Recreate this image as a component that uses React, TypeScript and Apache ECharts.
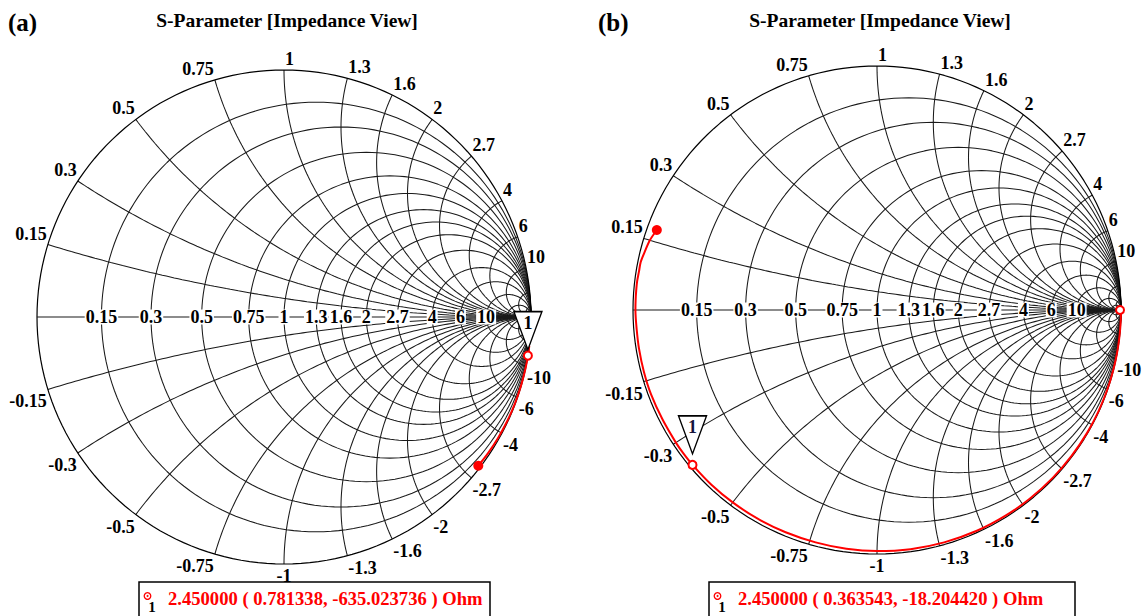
import React, { useEffect, useRef } from "react";
import * as echarts from "echarts";

const FONT = "'Liberation Serif', 'Times New Roman', Times, serif";

// ---- Smith chart grid values (normalized to Z0 = 50 Ohm) ----
const resistanceCircles = [0.15, 0.3, 0.5, 0.75, 1, 1.3, 1.6, 2, 2.7, 4, 6, 10, 20, 50];
const reactanceArcs = [0.15, 0.3, 0.5, 0.75, 1, 1.3, 1.6, 2, 2.7, 4, 6, 10, 20, 50];
const resistanceLabels = [0.15, 0.3, 0.5, 0.75, 1, 1.3, 1.6, 2, 2.7, 4, 6, 10];
const reactanceLabels = [0.15, 0.3, 0.5, 0.75, 1, 1.3, 1.6, 2, 2.7, 4, 6, 10];

// ---- (a) trace: normalized impedance r + jx ----
const traceA_r = [0.045, 0.04, 0.035, 0.03, 0.028, 0.025, 0.022, 0.018, 0.0156, 0.014, 0.013];
const traceA_x = [-2.95, -3.3, -3.8, -4.5, -5.5, -7, -9, -11, -12.7, -15, -17];

// ---- (b) trace: normalized impedance r + jx ----
const traceB_r = [0.021, 0.0136, 0.009, 0.006, 0.006, 0.005, 0.005, 0.005, 0.005, 0.006, 0.006, 0.006, 0.006, 0.007, 0.007, 0.007, 0.00727, 0.008, 0.009, 0.01, 0.011, 0.012, 0.012, 0.012, 0.012, 0.012, 0.012, 0.013, 0.014, 0.015, 0.016, 0.018, 0.02, 0.025, 0.03, 0.04, 0.06, 0.1, 0.2, 0.5, 2, 500];
const traceB_x = [0.176, 0.15, 0.12, 0.1, 0.08, 0.06, 0.04, 0.02, 0, -0.04, -0.08, -0.13, -0.18, -0.24, -0.3, -0.33, -0.364, -0.43, -0.5, -0.58, -0.67, -0.77, -0.88, -1, -1.15, -1.33, -1.55, -1.8, -2.1, -2.5, -3, -3.7, -4.6, -6, -8, -11, -16, -25, -45, -100, -300, 0];

// ---- markers (Ohm) ----
const Z0 = 50;
const markerFreq = "2.450000";
const markerA_Z = [0.781338, -635.023736];
const markerB_Z = [0.363543, -18.20442];
const titles = ["S-Parameter [Impedance View]", "S-Parameter [Impedance View]"];
const panelTags = ["(a)", "(b)"];

// layout (pixels)
const panels = [
  { left: 37, top: 70, size: 494, triGap: 6, legendX: 139, legendW: 351 },
  { left: 633, top: 66, size: 488, triGap: 11, legendX: 709, legendW: 366 },
];

function gamma(r: number, x: number): [number, number] {
  const d = (r + 1) * (r + 1) + x * x;
  return [(r * r + x * x - 1) / d, (2 * x) / d];
}

function rCircle(r: number): [number, number][] {
  const pts: [number, number][] = [];
  const N = 180;
  for (let i = 0; i <= N; i++) {
    const t = -Math.PI / 2 + (Math.PI * i) / N;
    if (i === 0 || i === N) { pts.push([1, 0]); continue; }
    const x = (r + 1) * Math.tan(t);
    pts.push(gamma(r, x));
  }
  return pts;
}

function xArc(x: number, rmax = Infinity): [number, number][] {
  const pts: [number, number][] = [];
  const N = 120;
  const w0 = Math.atan(Math.abs(x));
  const w1 = rmax === Infinity ? 0 : Math.atan(Math.abs(x) / (rmax + 1));
  for (let i = 0; i <= N; i++) {
    const w = w0 + ((w1 - w0) * i) / N;
    if (w <= 1e-9) { pts.push([1, 0]); continue; }
    const r = Math.abs(x) / Math.tan(w) - 1;
    pts.push(gamma(Math.max(r, 0), x));
  }
  return pts;
}

function fmt(v: number) {
  return String(v);
}

function buildOption() {
  const grids: any[] = [];
  const xAxes: any[] = [];
  const yAxes: any[] = [];
  const series: any[] = [];
  const graphics: any[] = [];
  const traces = [
    { r: traceA_r, x: traceA_x, markerZ: markerA_Z, endOpen: false },
    { r: traceB_r, x: traceB_x, markerZ: markerB_Z, endOpen: true },
  ];

  panels.forEach((p, k) => {
    grids.push({ left: p.left, top: p.top, width: p.size, height: p.size });
    xAxes.push({ gridIndex: k, type: "value", min: -1, max: 1, show: false });
    yAxes.push({ gridIndex: k, type: "value", min: -1, max: 1, show: false });
    const addLine = (data: any[], color = "#1a1a1a", width = 1.05, z = 2) =>
      series.push({
        type: "line", xAxisIndex: k, yAxisIndex: k, data, symbol: "none", showSymbol: false,
        lineStyle: { color, width }, silent: true, z, clip: false, animation: false,
      });

    resistanceCircles.forEach((r) => addLine(rCircle(r)));
    reactanceArcs.forEach((x) => { addLine(xArc(x)); addLine(xArc(-x)); });
    addLine(rCircle(0), "#000", 1.2);
    addLine([[-1, 0], [1, 0]]);

    // real-axis labels
    series.push({
      type: "scatter", xAxisIndex: k, yAxisIndex: k, symbolSize: 1, z: 5, silent: true,
      itemStyle: { color: "transparent", opacity: 1 },
      data: resistanceLabels.map((r) => ({ value: gamma(r, 0), name: fmt(r) })),
      label: {
        show: true, position: "inside", formatter: (d: any) => d.name,
        fontFamily: FONT, fontWeight: "bold", fontSize: 18, color: "#000",
        backgroundColor: "#fff", padding: [0, 1, 0, 1], lineHeight: 15,
      },
    });

    // boundary labels
    const bl: any[] = [];
    reactanceLabels.forEach((xv) => {
      [xv, -xv].forEach((x) => {
        const g = gamma(0, x);
        let align = g[0] > 0.001 ? "left" : "right";
        if (Math.abs(g[0]) <= 0.001) align = x > 0 ? "left" : "center";
        bl.push({
          value: g, name: fmt(x),
          label: {
            align, verticalAlign: x > 0 ? "bottom" : "top",
            offset: [align === "left" ? 1 : align === "right" ? -1 : 0, x > 0 ? -2 : 3],
          },
        });
      });
    });
    series.push({
      type: "scatter", xAxisIndex: k, yAxisIndex: k, symbolSize: 1, z: 5, silent: true,
      itemStyle: { color: "transparent", opacity: 1 }, data: bl,
      label: {
        show: true, position: "inside", formatter: (d: any) => d.name,
        fontFamily: FONT, fontWeight: "bold", fontSize: 18, color: "#000",
      },
    });

    // trace
    const tr = traces[k];
    const pts = tr.r.map((r, i) => gamma(r, tr.x[i]));
    series.push({
      type: "line", xAxisIndex: k, yAxisIndex: k, data: pts, symbol: "none", showSymbol: false,
      smooth: 0.3, lineStyle: { color: "#ff0000", width: 2 }, z: 6, clip: false, silent: true,
    });
    series.push({
      type: "scatter", xAxisIndex: k, yAxisIndex: k, z: 7, silent: true,
      symbol: "circle", symbolSize: 10, itemStyle: { color: "#ff0000", opacity: 1 }, data: [pts[0]],
    });
    const mz = gamma(tr.markerZ[0] / Z0, tr.markerZ[1] / Z0);
    const openPts = [mz];
    if (tr.endOpen) openPts.push(pts[pts.length - 1]);
    series.push({
      type: "scatter", xAxisIndex: k, yAxisIndex: k, z: 8, silent: true,
      symbol: "emptyCircle", symbolSize: 8,
      itemStyle: { color: "#ff0000", borderColor: "#ff0000", borderWidth: 1.6, opacity: 1 }, data: openPts,
    });
    // marker triangle
    series.push({
      type: "scatter", xAxisIndex: k, yAxisIndex: k, z: 9, silent: true,
      symbol: "path://M0,0 L28,0 L14,38 Z", symbolSize: [28, 38], symbolKeepAspect: false,
      symbolOffset: [0, -(19 + p.triGap)],
      itemStyle: { color: "#fff", borderColor: "#000", borderWidth: 1.5, opacity: 1 }, data: [mz],
    });
    series.push({
      type: "scatter", xAxisIndex: k, yAxisIndex: k, z: 10, silent: true, symbolSize: 1,
      itemStyle: { color: "transparent", opacity: 1 }, data: [{ value: mz, name: "1" }],
      label: {
        show: true, position: "inside", formatter: "1", offset: [0, -(p.triGap + 27)],
        fontFamily: FONT, fontWeight: "bold", fontSize: 18, color: k === 0 ? "#000" : "#14143c",
      },
    });

    // title and tag
    const cx = p.left + p.size / 2;
    graphics.push({
      type: "text", x: cx + 3, y: 20, z: 20,
      style: { text: titles[k], font: `bold 19.5px ${FONT}`, fill: "#000", textAlign: "center", textVerticalAlign: "middle" },
    });
    graphics.push({
      type: "text", x: k === 0 ? 8 : 598, y: 22, z: 20,
      style: { text: panelTags[k], font: `bold 25px ${FONT}`, fill: "#000", textAlign: "left", textVerticalAlign: "middle" },
    });
    // legend box
    const mzv = tr.markerZ;
    graphics.push({
      type: "group", z: 20,
      children: [
        { type: "rect", shape: { x: p.legendX, y: 582, width: p.legendW, height: 44 }, style: { fill: "#fff", stroke: "#000", lineWidth: 1.5 } },
        { type: "circle", shape: { cx: p.legendX + 8.5, cy: 596, r: 3.3 }, style: { fill: "none", stroke: "#ff0000", lineWidth: 1.3 } },
        { type: "circle", shape: { cx: p.legendX + 8.5, cy: 596, r: 1 }, style: { fill: "#ff0000" } },
        { type: "text", x: p.legendX + 13, y: 607, style: { text: "1", font: `bold 15px ${FONT}`, fill: "#000", textAlign: "center", textVerticalAlign: "middle" } },
        {
          type: "text", x: p.legendX + 29, y: 598,
          style: {
            text: `${markerFreq} ( ${mzv[0].toFixed(6)}, ${mzv[1].toFixed(6)} ) Ohm`,
            font: `bold 18.6px ${FONT}`, fill: "#ff0000", textAlign: "left", textVerticalAlign: "middle",
          },
        },
      ],
    });
  });

  return {
    animation: false,
    backgroundColor: "#fff",
    grid: grids,
    xAxis: xAxes,
    yAxis: yAxes,
    series,
    graphic: graphics,
  };
}

export default function App() {
  const ref = useRef<HTMLDivElement>(null);
  useEffect(() => {
    if (!ref.current) return;
    const chart = echarts.init(ref.current, undefined, { renderer: "svg" });
    chart.setOption(buildOption() as any);
    return () => chart.dispose();
  }, []);
  return <div ref={ref} style={{ position: "absolute", left: 0, top: 0, width: 1146, height: 616 }} />;
}
